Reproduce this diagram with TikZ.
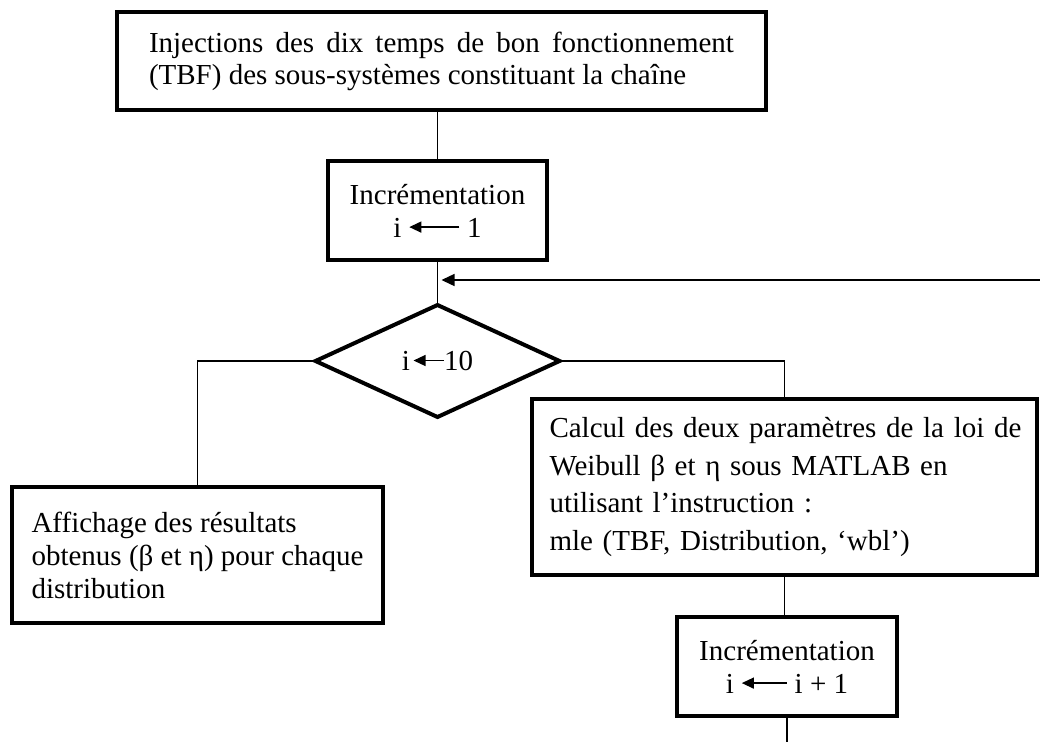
\documentclass[tikz,border=0pt]{standalone}
\usepackage{fontspec}
\setmainfont{Liberation Serif}
\usetikzlibrary{positioning}
\usetikzlibrary{shapes.geometric}
\usetikzlibrary{arrows.meta}

\hyphenpenalty=10000
\exhyphenpenalty=10000

\newcommand{\getsarrow}[1]{\tikz[baseline=-10pt]\draw[line width=1.3pt,-{Triangle[length=12pt,width=11pt]}] (#1,0pt) -- (0pt,0pt);}

\begin{document}
\begin{tikzpicture}[x=1pt,y=-1pt,
	boxnode/.style={rectangle, draw=black, line width=4.5pt, inner sep=0pt, outer sep=0pt, font=\fontsize{29}{33}\selectfont},
	decnode/.style={diamond, draw=black, line width=4pt, inner sep=0pt, outer sep=0pt, aspect=2.2, minimum width=244pt, minimum height=112pt, font=\fontsize{29}{33}\selectfont},
	link/.style={line width=1.4pt}]
	\useasboundingbox (0,0) rectangle (1040,742);
	\node[boxnode, text width=585pt, align=justify, minimum width=649pt, minimum height=98pt, font=\fontsize{29}{32}\selectfont] (inj) at (441.5,61) {Injections des dix temps de bon fonctionnement (TBF) des sous-systèmes constituant la chaîne};
	\node[boxnode, align=center, minimum width=219pt, minimum height=99pt] (incr1) [below=51pt of inj, xshift=-4pt] {Incrémentation\\ i \getsarrow{50pt} 1};
	\node[decnode] (dec) [below=45pt of incr1] {i\hspace{3pt}\getsarrow{30pt}10};
	\node[boxnode, align=left, minimum width=371pt, minimum height=136pt] (aff) at (197.5,555) {Affichage des résultats\\ obtenus (β et η) pour chaque\\ distribution};
	\node[boxnode, align=left, text width=470pt, minimum width=505pt, minimum height=176pt, font=\fontsize{29}{37.5}\selectfont] (calc) at (784.5,487) {\mbox{Calcul des deux paramètres de la loi de}\\ Weibull β et η sous MATLAB en\\ utilisant l’instruction :\\ mle (TBF, Distribution, ‘wbl')};
	\node[boxnode, align=center, minimum width=220pt, minimum height=99pt] (incr2) [below=42pt of calc, xshift=2.5pt] {Incrémentation\\ i \getsarrow{45pt} i + 1};
	\coordinate (loopin) at (1040,280);
	\coordinate (exit) at (789,742);
	\draw[link] (incr1.north |- inj.south) -- (incr1.north);
	\draw[link] (incr1.south) -- (dec.north);
	\draw[link] (dec.west) -| (aff.north);
	\draw[link] (dec.east) -| (calc.north);
	\draw[link] (calc.south) -- (calc.south |- incr2.north);
	\draw[link] (incr2.south) -- (incr2.south |- exit);
	\draw[link, -{Triangle[length=13pt,width=12pt]}, shorten >=4pt] (loopin) -- (loopin -| dec.north);
\end{tikzpicture}
\end{document}
